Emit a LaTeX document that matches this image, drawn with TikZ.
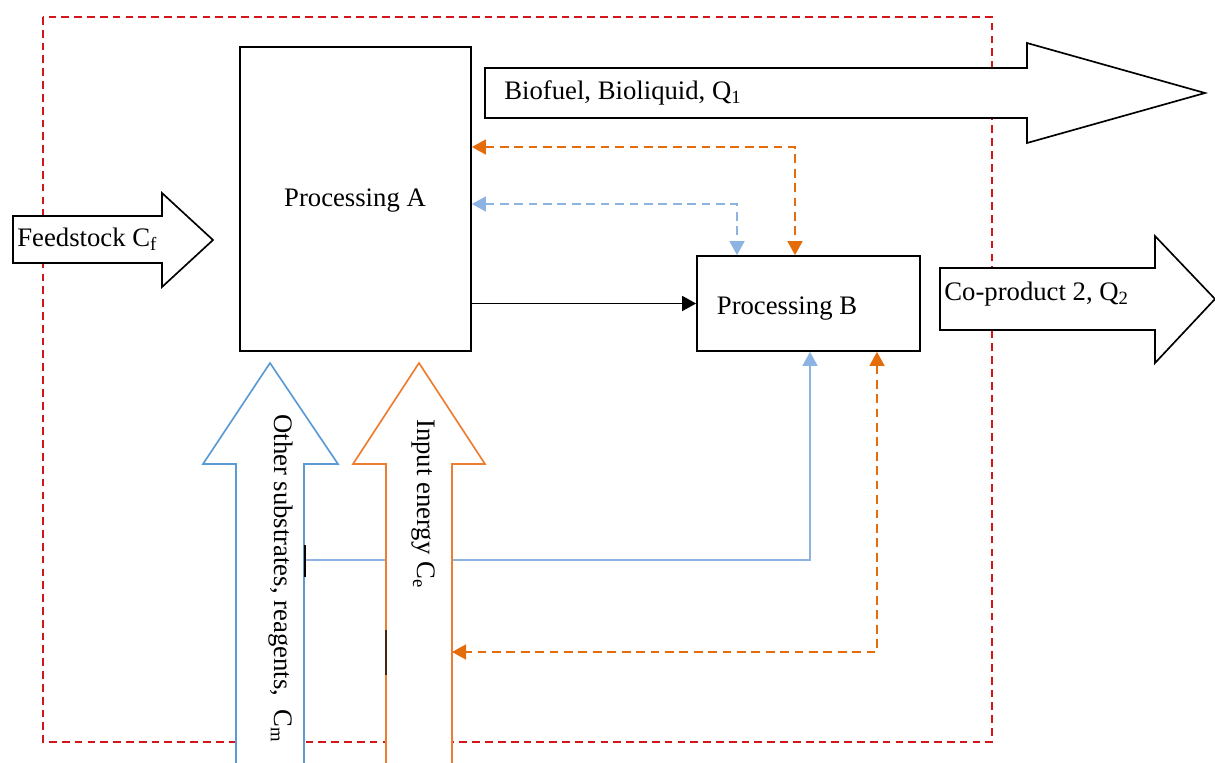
\documentclass[tikz,border=0pt]{standalone}
\usepackage{fontspec}
\setmainfont{Liberation Serif}
\usetikzlibrary{arrows.meta}

\definecolor{boxred}{HTML}{D2161B}
\definecolor{subblue}{HTML}{5B9BD5}
\definecolor{lineblue}{HTML}{8DB3E2}
\definecolor{energyorange}{HTML}{ED7D31}
\definecolor{dashorange}{HTML}{E46C0A}

\tikzset{
	proc/.style={draw=black,line width=1pt,fill=white,inner sep=0pt},
	blockarrow/.style={line width=0.95pt,fill=white},
	flowtext/.style={font=\fontsize{15.2}{18}\selectfont,inner sep=0pt},
	dashline/.style={line width=1.1pt,dash pattern=on 5pt off 3.2pt},
	onehead/.style={-{Triangle[length=8pt,width=8.5pt]}},
	twoheads/.style={{Triangle[length=8pt,width=8.5pt]}-{Triangle[length=8pt,width=8.5pt]}}
}

\begin{document}
\begin{tikzpicture}[x=0.02cm,y=-0.02cm]
	\useasboundingbox (0,0) rectangle (1215,762);
	% system boundary
	\draw[boxred,line width=0.85pt,dash pattern=on 4.4pt off 2.9pt] (43,17) rectangle (992,742);

	\node[proc,minimum width=4.62cm,minimum height=6.08cm] (A) at (355.5,199) {};
	\node[flowtext] (Atext) at (355,201) {Processing A};
	\node[proc,minimum width=4.46cm,minimum height=1.9cm] (B) at (808.5,303.5) {};
	\node[flowtext] (Btext) at (787,309) {Processing B};

	\coordinate (subst out) at (304,560);
	\coordinate (energy in) at (452,652);

	% substrates feed into B, runs under the energy arrow
	\draw[lineblue,line width=1.1pt,onehead] (subst out) -| (810,0 |- B.south);

	% block arrows
	\filldraw[blockarrow,draw=black] (485,68) -- (1027,68) -- (1027,43) -- (1205,93) -- (1027,143) -- (1027,118) -- (485,118) -- cycle;
	\filldraw[blockarrow,draw=black] (13,216) -- (162,216) -- (162,193) -- (213,240) -- (162,287) -- (162,263) -- (13,263) -- cycle;
	\filldraw[blockarrow,draw=black] (940,268) -- (1155,268) -- (1155,236) -- (1215,299) -- (1155,363) -- (1155,330) -- (940,330) -- cycle;
	\filldraw[blockarrow,draw=subblue] (236,800) -- (236,464) -- (203,464) -- (270,363) -- (338,464) -- (304,464) -- (304,800) -- cycle;
	\filldraw[blockarrow,draw=energyorange] (386,800) -- (386,464) -- (353,464) -- (419,363) -- (485,464) -- (452,464) -- (452,800) -- cycle;

	\node[flowtext,anchor=west] (Q1) at (504,93) {Biofuel, Bioliquid, Q\textsubscript{1}};
	\node[flowtext,anchor=west] (Cf) at (17,239) {Feedstock C\textsubscript{f}};
	\node[flowtext,anchor=west] (Q2) at (944,294) {Co-product 2, Q\textsubscript{2}};
	\node[flowtext,rotate=-90,anchor=west] (Cm) at (281,414) {Other substrates, reagents,\ \ C\textsubscript{m}};
	\node[flowtext,rotate=-90,anchor=west] (Ce) at (423,419) {Input energy C\textsubscript{e}};

	% flows between the two steps
	\draw[black,line width=1.1pt,onehead] (A.east |- B.west) -- (B.west);
	\draw[dashorange,dashline,twoheads] (A.east |- 0,147) -| (795,0 |- B.north);
	\draw[lineblue,dashline,twoheads] (A.east |- 0,204) -| (737,0 |- B.north);
	\draw[dashorange,dashline,twoheads] (877,0 |- B.south) |- (energy in);

	\draw[black,line width=1pt] (305,545) -- (305,577);
	\draw[black!70!energyorange,line width=0.8pt] (386,630) -- (386,675);
\end{tikzpicture}
\end{document}
